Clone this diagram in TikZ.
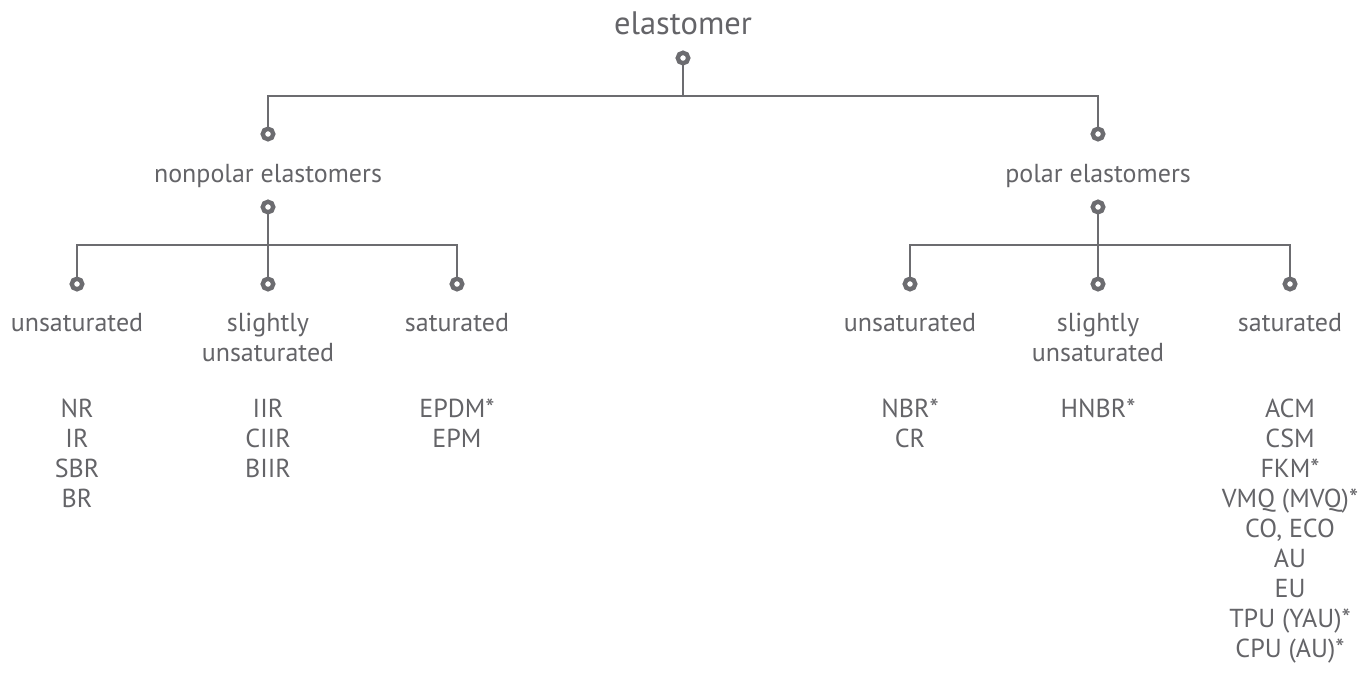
\documentclass[tikz,border=0pt]{standalone}
\usepackage{fontspec}
\setmainfont{PT Sans}
\usetikzlibrary{positioning}
\definecolor{mygray}{RGB}{100,100,104}
\definecolor{mylinegray}{RGB}{108,108,112}
\tikzset{
  cattext/.style={font=\fontsize{14.8}{17.07}\selectfont, text=mygray,
    inner sep=0pt, align=center},
  roottext/.style={font=\fontsize{18.5}{22}\selectfont, text=mygray,
    inner sep=0pt, align=center},
  ring/.style={circle, draw=mylinegray, fill=white, line width=2.5pt,
    minimum size=0.21cm, inner sep=0pt},
  conn/.style={line width=1.5pt, color=mylinegray}
}
\begin{document}
\begin{tikzpicture}[x=0.02cm, y=-0.02cm]
  \useasboundingbox (0,0) rectangle (1362,674);

  % Root
  \node[roottext, anchor=base] (root) at (683,34) {elastomer};
  \node[ring] (rootdot) at (683,58) {};
  \coordinate (rootbar) at (683,96);
  \node[ring] (npdot) at (268,134) {};
  \node[ring] (pdot) at (1098,134) {};
  \draw[conn] (rootdot) -- (rootbar);
  \draw[conn] (npdot) |- (rootbar) -| (pdot);

  % Nonpolar branch
  \node[cattext, anchor=base] (np) at (268,182) {nonpolar elastomers};
  \node[ring] (npdotb) at (268,207) {};
  \coordinate (npbar) at (268,245);
  \node[ring] (npunsdot) at (77,284) {};
  \node[ring] (npslidot) at (268,284) {};
  \node[ring] (npsatdot) at (457,284) {};
  \draw[conn] (npdotb) -- (npslidot);
  \draw[conn] (npunsdot) |- (npbar) -| (npsatdot);

  % Polar branch
  \node[cattext, anchor=base] (p) at (1098,182) {polar elastomers};
  \node[ring] (pdotb) at (1098,207) {};
  \coordinate (pbar) at (1098,245);
  \node[ring] (punsdot) at (910,284) {};
  \node[ring] (pslidot) at (1098,284) {};
  \node[ring] (psatdot) at (1290,284) {};
  \draw[conn] (pdotb) -- (pslidot);
  \draw[conn] (punsdot) |- (pbar) -| (psatdot);

  % Sub-group labels
  \node[cattext, anchor=north] (npuns) at (77,313) {unsaturated};
  \node[cattext, anchor=north] (npsli) at (268,313) {slightly\\unsaturated};
  \node[cattext, anchor=north] (npsat) at (457,313) {saturated};
  \node[cattext, anchor=north] (puns) at (910,313) {unsaturated};
  \node[cattext, anchor=north] (psli) at (1098,313) {slightly\\unsaturated};
  \node[cattext, anchor=north] (psat) at (1290,313) {saturated};

  % Member lists
  \node[cattext, anchor=north] (npunslist) at (77,399) {NR\\IR\\SBR\\BR};
  \node[cattext, anchor=north] (npslilist) at (268,399) {IIR\\CIIR\\BIIR};
  \node[cattext, anchor=north] (npsatlist) at (457,399) {EPDM*\\EPM};
  \node[cattext, anchor=north] (punslist) at (910,399) {NBR*\\CR};
  \node[cattext, anchor=north] (pslilist) at (1098,399) {HNBR*};
  \node[cattext, anchor=north] (psatlist) at (1290,399)
    {ACM\\CSM\\FKM*\\VMQ (MVQ)*\\CO, ECO\\AU\\EU\\TPU (YAU)*\\CPU (AU)*};
\end{tikzpicture}
\end{document}
